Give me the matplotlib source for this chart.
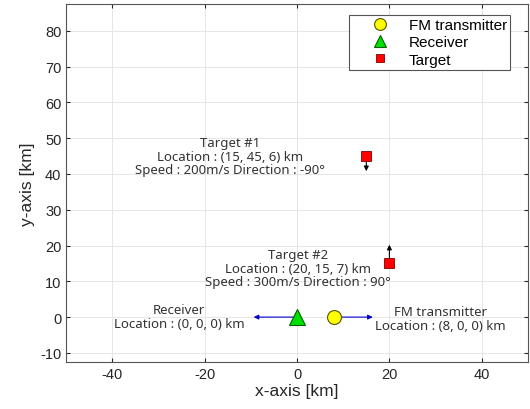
import matplotlib
matplotlib.use("Agg")
import matplotlib.pyplot as plt

# data
tx_pos = (8, 0)
rx_pos = (0, 0)
targets_x = [15, 20]
targets_y = [45, 15]
tgt_arrow_dy = [-5, 6]
rx_arrow_dx = -10
tx_arrow_dx = 9
xticks = [-40, -20, 0, 20, 40]
yticks = [-10, 0, 10, 20, 30, 40, 50, 60, 70, 80]

plt.rcParams['font.family'] = ['Liberation Sans', 'DejaVu Sans']
plt.rcParams['axes.unicode_minus'] = False
fig = plt.figure(figsize=(5.3, 4.1), dpi=100)
ax = fig.add_axes([0.125, 0.115, 0.871, 0.873])

ax.set_xlim(-50, 50)
ax.set_ylim(-12.5, 87.5)
ax.set_xticks(xticks)
ax.set_yticks(yticks)
ax.grid(True, color='#e6e6e6', linewidth=0.7)
ax.set_axisbelow(True)
ax.tick_params(direction='in', top=True, right=True, labelsize=10.5, colors='#262626', length=3)
for s in ax.spines.values():
    s.set_color('#555555'); s.set_linewidth(0.8)
ax.set_xlabel('x-axis [km]', fontsize=12.5, labelpad=2, color='#262626')
ax.set_ylabel('y-axis [km]', fontsize=12.5, labelpad=4, color='#262626')

# arrows
ann_font = ['Noto Sans', 'DejaVu Sans']
for x, y, dy in zip(targets_x, targets_y, tgt_arrow_dy):
    ax.annotate('', xy=(x, y + dy), xytext=(x, y),
                arrowprops=dict(arrowstyle='-|>', color='black', lw=0.8, mutation_scale=7))
ax.annotate('', xy=(rx_pos[0] + rx_arrow_dx, rx_pos[1]), xytext=rx_pos,
            arrowprops=dict(arrowstyle='-|>', color='#0000cc', lw=0.8, mutation_scale=7))
ax.annotate('', xy=(tx_pos[0] + tx_arrow_dx, tx_pos[1]), xytext=tx_pos,
            arrowprops=dict(arrowstyle='-|>', color='#0000cc', lw=0.8, mutation_scale=7))

h_tx, = ax.plot(*tx_pos, 'o', ms=10, mfc='#ffff00', mec='#555500', mew=0.8, linestyle='none', label='FM transmitter', zorder=5)
h_rx, = ax.plot(*rx_pos, '^', ms=11, mfc='#00e000', mec='#006000', mew=0.8, linestyle='none', label='Receiver', zorder=5)
h_t, = ax.plot(targets_x, targets_y, 's', ms=7, mfc='#ff0000', mec='#800000', mew=0.6, linestyle='none', label='Target', zorder=5)

tc = '#333333'
fs = 9.5
ls = 1.05
ax.text(-14.5, 45, 'Target #1\nLocation : (15, 45, 6) km\nSpeed : 200m/s Direction : -90°',
        ha='center', va='center', fontsize=fs, family=ann_font, color=tc, linespacing=ls)
ax.text(0.2, 13.6, 'Target #2\nLocation : (20, 15, 7) km\nSpeed : 300m/s Direction : 90°',
        ha='center', va='center', fontsize=fs, family=ann_font, color=tc, linespacing=ls)
ax.text(-25.5, 0.2, 'Receiver\nLocation : (0, 0, 0) km',
        ha='center', va='center', fontsize=fs, family=ann_font, color=tc, linespacing=ls)
ax.text(31, -0.4, 'FM transmitter\nLocation : (8, 0, 0) km',
        ha='center', va='center', fontsize=fs, family=ann_font, color=tc, linespacing=ls)

leg = ax.legend(handles=[h_tx, h_rx, h_t], loc='upper right', fontsize=11,
                bbox_to_anchor=(0.962, 0.97), borderaxespad=0, handlelength=3.6,
                handletextpad=0.1, borderpad=0.22, labelspacing=0.22, fancybox=False,
                edgecolor='#555555', framealpha=1, markerscale=0.85)
leg.get_frame().set_linewidth(0.8)

fig.savefig('out.png', dpi=100)
